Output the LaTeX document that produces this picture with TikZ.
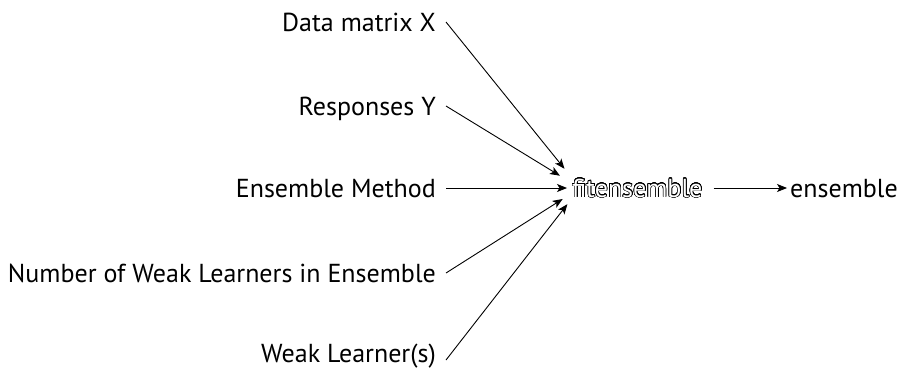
\documentclass[tikz,border=0pt]{standalone}
\usepackage{fontspec}
\setmainfont{PT Sans}
\usepackage{contour}
\contourlength{0.6pt}
\contournumber{32}
\usetikzlibrary{arrows.meta,calc}
\begin{document}
\begin{tikzpicture}[x=1pt,y=-1pt,
  txt/.style={inner sep=0pt,font=\fontsize{26}{30}\selectfont},
  lbl/.style={txt,anchor=base east},
  arr/.style={-{Stealth[length=10pt,width=8pt,inset=2.5pt]},line width=0.9pt},
]
\useasboundingbox (0,0) rectangle (904,370);
\node[lbl] (x) at (436,31) {Data matrix X};
\node[lbl] (y) at (436,115) {Responses Y};
\node[lbl] (m) at (436,197) {Ensemble Method};
\node[lbl] (n) at (436,282) {Number of Weak Learners in Ensemble};
\node[lbl] (w) at (436,362) {Weak Learner(s)};
\node[txt,anchor=base west] (fit) at (572,197) {\contour{black}{\textcolor{white}{fitensemble}}};
\node[txt,anchor=base west] (ens) at (790,197) {ensemble};
\coordinate (hub) at (580,188);
\draw[arr,shorten >=24.7pt] ($(x.base east)+(10,-9)$) -- (hub);
\draw[arr,shorten >=23.5pt] ($(y.base east)+(10,-9)$) -- (hub);
\draw[arr] ($(m.base east)+(10,-9)$) -- ($(fit.base west)+(-5,-9)$);
\draw[arr,shorten >=20.5pt] ($(n.base east)+(10,-9)$) -- (hub);
\draw[arr,shorten >=20.5pt] ($(w.base east)+(10,-2)$) -- (hub);
\draw[arr] ($(fit.base east)+(11,-9)$) -- ($(ens.base west)+(-3,-9)$);
\end{tikzpicture}
\end{document}
